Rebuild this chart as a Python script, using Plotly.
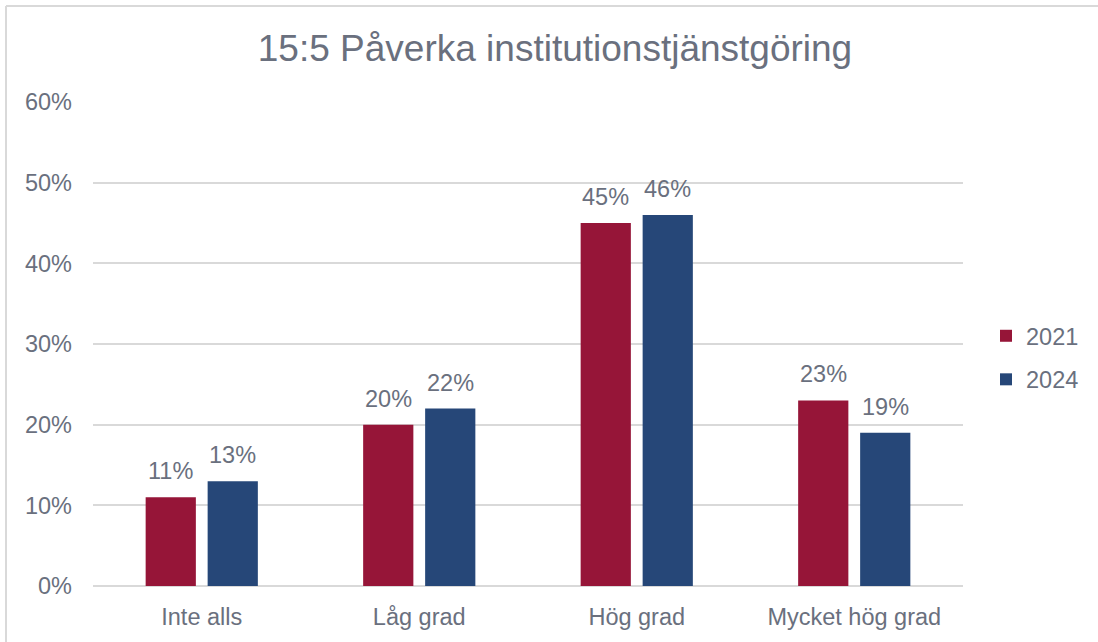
import plotly.graph_objects as go

categories = ["Inte alls", "Låg grad", "Hög grad", "Mycket hög grad"]
values_2021 = [11, 20, 45, 23]
values_2024 = [13, 22, 46, 19]
y_ticks = [0, 10, 20, 30, 40, 50, 60]
y_tick_labels = [f"{v}%" for v in y_ticks]

TEXT = "#6A707E"
FONT = "Liberation Sans, Arial, sans-serif"
SIZE = 23.5

series = [("2021", values_2021, "#961538", -31),
          ("2024", values_2024, "#264778", 31)]

fig = go.Figure()
annotations = []
for name, vals, color, shift in series:
    fig.add_trace(go.Bar(
        name=name, x=categories, y=vals, legendgroup=name,
        marker=dict(color=color, line=dict(width=0)),
    ))
    for cat, v in zip(categories, vals):
        annotations.append(dict(
            x=cat, y=v, xref="x", yref="y", text=f"{v}%", showarrow=False,
            xshift=shift, yanchor="bottom", yshift=11,
            font=dict(size=SIZE, color=TEXT, family=FONT)))

fig.update_layout(
    width=1098, height=642,
    margin=dict(l=93, r=135, t=102, b=56),
    paper_bgcolor="white", plot_bgcolor="white",
    font=dict(family=FONT, color=TEXT, size=SIZE),
    title=dict(text="15:5 Påverka institutionstjänstgöring",
               x=555 / 1098, xanchor="center", xref="container",
               y=1 - 48 / 642, yanchor="middle", yref="container",
               font=dict(size=37, color=TEXT, family=FONT)),
    barmode="group", bargap=0.43, bargroupgap=0.19,
    showlegend=True,
    legend=dict(x=986 / 1098, xanchor="left", y=1 - 358 / 642, yanchor="middle",
                xref="container", yref="container",
                font=dict(size=SIZE, color=TEXT, family=FONT),
                itemsizing="constant", tracegroupgap=10, bgcolor="rgba(0,0,0,0)"),
    annotations=annotations,
    shapes=[
        dict(type="line", xref="paper", yref="paper",
             x0=-87 / 870, x1=1092 / 870, y0=1 + 96 / 484, y1=1 + 96 / 484,
             line=dict(color="#D9D9D9", width=2)),
        dict(type="line", xref="paper", yref="paper",
             x0=-87 / 870, x1=-87 / 870, y0=1 + 96 / 484, y1=-56 / 484,
             line=dict(color="#D9D9D9", width=2)),
    ],
)
fig.update_xaxes(showgrid=False, showline=False, ticks="",
                 tickfont=dict(size=SIZE, color=TEXT, family=FONT),
                 ticklabelstandoff=14)
fig.update_yaxes(range=[0, 60], tickvals=y_ticks, ticktext=y_tick_labels,
                 showgrid=True, gridcolor="#D9D9D9", gridwidth=1.5,
                 zeroline=True, zerolinecolor="#D9D9D9", zerolinewidth=1.5,
                 showline=False, ticks="",
                 tickfont=dict(size=SIZE, color=TEXT, family=FONT),
                 ticklabelstandoff=20)

fig.write_html("out.html")
